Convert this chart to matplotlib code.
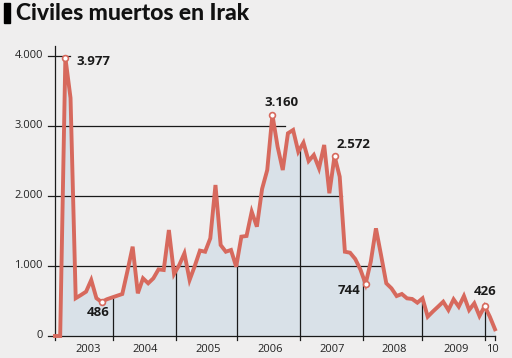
import matplotlib
matplotlib.use("Agg")
import matplotlib.pyplot as plt
import numpy as np

# Monthly civilian deaths, Jan 2003 - Feb 2010
deaths = [0, 0, 3977, 3400, 540, 585, 633, 800, 540, 486, 524, 550,
          575, 600, 930, 1276, 610, 824, 753, 824, 952, 943, 1514, 886,
          1014, 1181, 800, 1000, 1220, 1204, 1395, 2157, 1300, 1204, 1229, 990,
          1419, 1429, 1776, 1562, 2100, 2371, 3160, 2705, 2371, 2896, 2943, 2633,
          2762, 2500, 2586, 2396, 2729, 2039, 2572, 2276, 1204, 1190, 1100, 950,
          744, 1061, 1538, 1150, 753, 681, 571, 600, 538, 529, 476, 538,
          276, 350, 419, 490, 371, 524, 419, 571, 371, 467, 286, 426,
          276, 96]
year_labels = ["2003", "2004", "2005", "2006", "2007", "2008", "2009", "10"]
y_ticks = [0, 1000, 2000, 3000, 4000]
y_tick_labels = ["0", "1.000", "2.000", "3.000", "4.000"]
highlights = {2: "3.977", 9: "486", 42: "3.160", 54: "2.572", 60: "744", 83: "426"}

BG = "#efeeee"
LINE = "#d7695d"
FILL = "#d9e1e8"
FONT = ["Open Sans", "DejaVu Sans"]

x = np.arange(len(deaths))
y = np.array(deaths, dtype=float)

fig = plt.figure(figsize=(5.12, 3.58), dpi=100, facecolor=BG)
W, H = 512, 358
ax = fig.add_axes([55 / W, (H - 336) / H, 440 / W, 301 / H])
ax.set_facecolor(BG)
ax.set_xlim(0, len(deaths) - 1)
ax.set_ylim(0, 4300)
for s in ax.spines.values():
    s.set_visible(False)
ax.set_xticks([])
ax.set_yticks([])

ax.fill_between(x, 0, y, color=FILL, zorder=1, lw=0)

# horizontal grid lines (from tick to the curve)
grid_ext = {0: 85, 1000: 63.3, 2000: 55.4, 3000: 44.4, 4000: 2.9}
tick_len = 7 / 440 * 85
for v, lab in zip(y_ticks, y_tick_labels):
    ax.plot([-tick_len, grid_ext[v]], [v, v], color="#1a1a1a", lw=0.9,
            clip_on=False, zorder=2)
    ax.text(-tick_len - 1.0, v, lab, ha="right", va="center", fontsize=8,
            family=FONT, color="#222222", clip_on=False)

# vertical axis
ax.plot([0, 0], [0, 4150], color="#1a1a1a", lw=0.9, clip_on=False, zorder=2)

# year separators (drop lines to the curve)
year_sep = [11.2, 23.4, 35.1, 47.3, 59.5, 70.9, 83.0]
below = -60
for xs in year_sep:
    top = np.interp(xs, x, y)
    ax.plot([xs, xs], [below, top], color="#1a1a1a", lw=0.9, clip_on=False,
            zorder=2)
for xs in [0, len(deaths) - 1]:
    ax.plot([xs, xs], [below, 0], color="#1a1a1a", lw=0.9, clip_on=False,
            zorder=2)

label_pos = [6.5, 17.5, 29.5, 41.5, 53.5, 65.5, 77.5, 84.5]
for xp, lab in zip(label_pos, year_labels):
    ax.text(xp, -190, lab, ha="center", va="center", fontsize=8,
            family=FONT, color="#222222", clip_on=False)

ax.plot(x, y, color=LINE, lw=2.8, zorder=3, solid_joinstyle="miter",
        clip_on=False)

hx = list(highlights.keys())
ax.plot(hx, y[hx], "o", ms=4.2, mfc="white", mec=LINE, mew=1.2, zorder=4,
        clip_on=False)

ann = {
    2: (4.2, 3977 - 60, "left"),
    9: (8.3, 330, "center"),
    42: (43.7, 3330, "center"),
    54: (54.3, 2730, "left"),
    60: (58.9, 650, "right"),
    83: (83.0, 630, "center"),
}
for k, (ax_x, ax_y, ha) in ann.items():
    ax.text(ax_x, ax_y, highlights[k], ha=ha, va="center", fontsize=9.5,
            fontweight="bold", family=FONT, color="#1a1a1a", zorder=5)

# title with black bar
fig.patches.append(matplotlib.patches.Rectangle((4 / W, (H - 23) / H), 6 / W, 20 / H,
                                                transform=fig.transFigure,
                                                color="black"))
fig.text(16 / W, (H - 13) / H, "Civiles muertos en Irak", ha="left", va="center",
         fontsize=16.5, fontweight="black", family=["Lato", "DejaVu Sans"],
         color="#111111")

fig.savefig("out.png", dpi=100, facecolor=BG)
